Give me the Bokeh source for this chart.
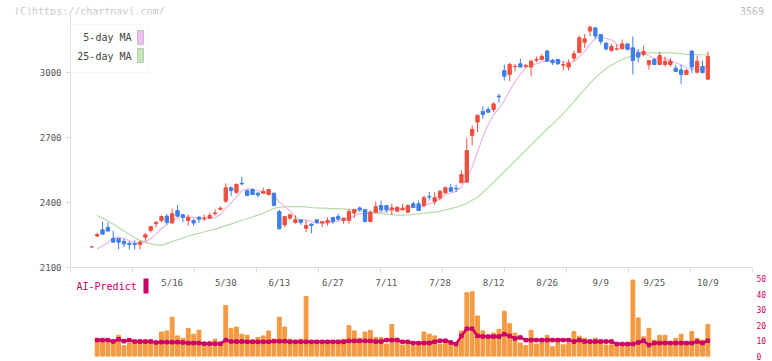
import numpy as np
from bokeh.plotting import figure
from bokeh.layouts import column
from bokeh.models import Range1d, FixedTicker, ColumnDataSource, Label, BoxAnnotation, LinearAxis, Div
from bokeh.core.properties import value
from bokeh.embed import file_html
from bokeh.resources import INLINE

nan = float("nan")

opens = [2195, 2245, 2274, 2285, 2234, 2234, 2221, 2211, 2211, 2206,
         2240, 2271, 2302, 2317, 2337, 2306, 2363, 2343, 2317, 2317,
         2332, 2325, 2328, 2349, 2369, 2406, 2468, 2447, 2489, 2455,
         2460, 2443, 2443, 2437, 2443, 2358, 2297, 2328, 2308, 2320,
         2281, 2300, 2320, 2306, 2308, 2331, 2335, 2317, 2317, 2351,
         2375, 2368, 2312, 2355, 2386, 2386, 2366, 2360, 2366, 2355,
         2394, 2394, 2386, 2428, 2405, 2421, 2445, 2468, 2466, 2491,
         2494, 2709, 2771, 2820, 2829, 2829, 2891, 3009, 2991, 3027,
         3040, 3028, 3025, 3057, 3060, 3099, 3055, 3060, 3034, 3025,
         3066, 3092, 3140, 3191, 3206, 3175, 3135, 3101, 3108, 3109,
         3132, 3114, 3091, 3083, 3037, 3060, 3037, 3037, 3037, 3020,
         3012, 2991, 3099, 3001, 3028, 2969]
highs = [2195, 2260, 2312, 2308, 2269, 2234, 2235, 2221, 2226, 2225,
         2258, 2289, 2314, 2340, 2348, 2371, 2388, 2348, 2345, 2325,
         2337, 2345, 2354, 2368, 2381, 2489, 2474, 2489, 2520, 2460,
         2466, 2448, 2468, 2460, 2443, 2366, 2337, 2348, 2340, 2320,
         2317, 2304, 2320, 2312, 2332, 2332, 2348, 2328, 2371, 2371,
         2381, 2368, 2363, 2405, 2409, 2386, 2394, 2381, 2394, 2391,
         2405, 2409, 2432, 2448, 2448, 2459, 2474, 2486, 2482, 2548,
         2697, 2755, 2806, 2844, 2840, 2863, 2902, 3037, 3045, 3040,
         3063, 3040, 3059, 3074, 3086, 3105, 3063, 3060, 3051, 3060,
         3101, 3171, 3178, 3218, 3206, 3178, 3140, 3132, 3129, 3152,
         3132, 3166, 3109, 3124, 3055, 3066, 3094, 3074, 3066, 3035,
         3035, 3017, 3101, 3078, 3055, 3097]
lows = [2195, 2240, 2254, 2268, 2217, 2184, 2194, 2184, 2184, 2184,
        2221, 2262, 2286, 2309, 2297, 2302, 2332, 2309, 2294, 2292,
        2306, 2314, 2325, 2340, 2363, 2399, 2429, 2440, 2478, 2432,
        2437, 2422, 2443, 2432, 2386, 2275, 2286, 2320, 2302, 2297,
        2263, 2258, 2302, 2286, 2294, 2302, 2317, 2302, 2302, 2328,
        2358, 2312, 2309, 2351, 2355, 2355, 2343, 2358, 2363, 2355,
        2375, 2363, 2378, 2409, 2389, 2409, 2440, 2448, 2448, 2491,
        2491, 2663, 2724, 2786, 2814, 2817, 2860, 2963, 2960, 3006,
        3025, 3022, 2981, 3047, 3060, 3052, 3035, 3035, 3009, 3009,
        3052, 3092, 3114, 3168, 3155, 3129, 3101, 3097, 3101, 3109,
        3101, 2991, 3047, 3074, 3014, 3037, 3037, 3028, 3025, 3005,
        2948, 2991, 2997, 2994, 2999, 2969]
closes = [2195, 2252, 2254, 2268, 2217, 2217, 2209, 2206, 2206, 2217,
          2251, 2289, 2309, 2335, 2309, 2348, 2337, 2332, 2332, 2305,
          2323, 2329, 2340, 2352, 2374, 2468, 2455, 2483, 2486, 2432,
          2437, 2435, 2451, 2460, 2386, 2279, 2335, 2343, 2320, 2308,
          2294, 2294, 2308, 2312, 2317, 2312, 2323, 2328, 2358, 2368,
          2366, 2312, 2355, 2381, 2366, 2366, 2375, 2378, 2374, 2386,
          2378, 2363, 2422, 2425, 2422, 2451, 2468, 2452, 2463, 2529,
          2640, 2737, 2802, 2806, 2817, 2855, 2888, 2983, 3037, 3029,
          3025, 3032, 3052, 3060, 3074, 3052, 3045, 3040, 3037, 3043,
          3086, 3160, 3155, 3209, 3168, 3144, 3109, 3120, 3109, 3132,
          3107, 3055, 3071, 3097, 3055, 3037, 3078, 3052, 3052, 3005,
          2991, 3009, 3025, 3052, 2999, 3074]

ma5 = [nan, 2186, 2199, 2215, 2237, 2242, 2233, 2223, 2211, 2211, 2218,
       2234, 2254, 2280, 2299, 2318, 2328, 2332, 2332, 2331, 2326,
       2324, 2326, 2330, 2344, 2373, 2398, 2426, 2453, 2465, 2459,
       2455, 2448, 2443, 2434, 2402, 2382, 2361, 2333, 2317, 2320,
       2312, 2305, 2303, 2305, 2309, 2314, 2318, 2328, 2338, 2349,
       2346, 2352, 2356, 2356, 2356, 2369, 2373, 2372, 2376, 2378,
       2376, 2385, 2395, 2402, 2417, 2438, 2444, 2451, 2473, 2510,
       2564, 2634, 2703, 2760, 2803, 2834, 2870, 2916, 2958, 2992,
       3021, 3035, 3040, 3049, 3054, 3057, 3054, 3050, 3043, 3050,
       3073, 3096, 3131, 3156, 3167, 3157, 3150, 3130, 3123, 3115,
       3105, 3095, 3092, 3077, 3063, 3068, 3064, 3055, 3045, 3036,
       3022, 3016, 3016, 3015, 3032]
ma25 = [nan, 2340, 2328, 2315, 2300, 2285, 2268, 2252, 2238, 2225, 2216,
        2209, 2204, 2202, 2210, 2220, 2228, 2236, 2244, 2252, 2258,
        2265, 2271, 2277, 2285, 2293, 2300, 2310, 2318, 2325, 2333,
        2342, 2350, 2362, 2373, 2378, 2380, 2381, 2381, 2381, 2380,
        2377, 2375, 2374, 2373, 2372, 2371, 2371, 2368, 2365, 2362,
        2358, 2354, 2350, 2348, 2346, 2344, 2342, 2342, 2343, 2345,
        2348, 2350, 2353, 2356, 2360, 2366, 2372, 2378, 2386, 2396,
        2410, 2424, 2447, 2470, 2494, 2519, 2543, 2567, 2592, 2616,
        2641, 2665, 2690, 2714, 2739, 2762, 2785, 2810, 2838, 2866,
        2895, 2922, 2950, 2975, 2998, 3018, 3035, 3047, 3060, 3070,
        3076, 3083, 3089, 3091, 3091, 3091, 3091, 3091, 3089, 3087,
        3084, 3083, 3082, 3082, 3082]

ai_bar = [nan, 11.7, 10.7, 10.7, 10.7, 13.6, 6.9, 8.6, 10.1, 10.7, 10.1,
          10.7, 8.6, 15.7, 16.4, 25.2, 13.2, 11.7, 18.0, 14.3, 16.8,
          7.3, 9.4, 11.1, 8.0, 32.7, 18.0, 18.9, 14.3, 13.6, 10.7,
          12.2, 13.2, 16.4, 11.1, 25.2, 18.9, 11.1, 10.1, 11.1, 38.4,
          9.4, 10.1, 9.4, 9.4, 8.6, 10.1, 11.1, 19.9, 16.4, 11.7,
          15.7, 16.8, 12.2, 12.2, 8.0, 20.5, 11.7, 7.3, 8.6, 6.9,
          7.3, 15.7, 14.3, 13.2, 8.0, 11.0, 8.0, 8.4, 16.4, 40.9,
          41.5, 26.0, 16.4, 12.0, 15.0, 17.4, 29.0, 21.0, 15.0, 8.6,
          7.0, 16.8, 8.0, 10.5, 13.6, 6.3, 10.5, 7.5, 8.6, 16.0,
          13.0, 11.7, 9.4, 11.7, 10.5, 7.3, 7.5, 7.5, 8.0, 8.0,
          49.0, 24.7, 12.6, 18.0, 10.5, 13.6, 13.6, 7.3, 11.7, 14.3,
          8.0, 16.0, 11.7, 10.5, 20.5]
ai_line = [nan, 10.5, 10.5, 10.5, 9.6, 11.0, 9.8, 10.5, 9.6, 9.6, 9.6,
           9.6, 9.0, 9.2, 9.2, 9.2, 9.2, 9.0, 8.6, 8.6, 8.6,
           8.2, 8.2, 8.2, 8.2, 10.5, 9.6, 9.6, 9.6, 9.4, 9.4,
           9.4, 9.4, 9.4, 9.8, 9.8, 9.8, 9.4, 9.4, 9.4, 9.4,
           9.4, 9.4, 9.4, 9.4, 9.4, 9.4, 9.4, 10.0, 10.0, 10.0,
           10.0, 10.0, 9.6, 9.6, 10.5, 10.5, 10.5, 9.4, 9.4, 8.6,
           8.6, 8.6, 8.6, 9.4, 10.1, 10.1, 9.0, 8.0, 13.2, 17.8,
           17.8, 13.2, 12.8, 12.8, 12.8, 12.8, 14.3, 13.2, 11.5, 12.2,
           10.5, 10.5, 10.5, 10.5, 10.5, 10.5, 10.5, 10.5, 10.5, 9.6,
           10.5, 9.6, 9.6, 9.6, 9.6, 9.6, 9.6, 8.0, 8.0, 8.0,
           8.0, 9.0, 10.1, 7.3, 8.6, 8.6, 8.6, 8.6, 8.6, 8.6,
           8.6, 8.6, 9.6, 8.6, 10.1]

date_idx = [15, 25, 35, 45, 55, 65, 75, 85, 95, 105, 115]
date_lbl = ["5/16", "5/30", "6/13", "6/27", "7/11", "7/28", "8/12", "8/26", "9/9", "9/25", "10/9"]
price_ticks = [2100, 2400, 2700, 3000]
ai_ticks = [0, 10, 20, 30, 40, 50]

FONT = "DejaVu Sans Mono"
UP, DOWN = "#f14f3e", "#3d7ee9"
W = 768

idx = np.arange(len(closes))
o = np.array(opens, float); c = np.array(closes, float)
src = ColumnDataSource(dict(
    x=idx, o=o, h=np.array(highs, float), l=np.array(lows, float), c=c,
    top=np.maximum(o, c), bot=np.minimum(o, c),
    col=[UP if cc >= oo else DOWN for oo, cc in zip(o, c)],
    ma5=np.array(ma5, float), ma25=np.array(ma25, float),
    bar=np.array(ai_bar, float), line=np.array(ai_line, float)))

x_start, x_end = -3.98, 123.33
xr = Range1d(x_start, x_end)

# ---- header texts ----
header = Div(
    text=("<div style=\"position:relative;width:%dpx;height:14px;"
          "font-family:'DejaVu Sans Mono',monospace;font-size:10px;line-height:12px;\">"
          "<span style=\"position:absolute;left:14px;top:6px;color:#c8c8c8;\">(C)https://chartnavi.com/</span>"
          "<span style=\"position:absolute;right:4px;top:6px;color:#bbbbbb;\">3569</span>"
          "</div>") % W,
    width=W, height=14, margin=(0, 0, 0, 0))

# ---- main chart ----
p = figure(frame_width=682, frame_height=253, x_range=xr, y_range=Range1d(2100, 3267.7),
           output_backend="svg", toolbar_location=None,
           min_border_left=70, min_border_right=16, min_border_top=0, min_border_bottom=6)
p.outline_line_color = None
p.grid.visible = False

xa = p.xaxis[0]
xa.ticker = FixedTicker(ticks=[], minor_ticks=list(np.linspace(x_start, x_end, 12)))
xa.major_tick_out = 0
xa.major_tick_in = 0
xa.minor_tick_out = 5
xa.minor_tick_in = 0
xa.major_label_standoff = 0
xa.axis_line_color = "#dddddd"
xa.minor_tick_line_color = "#dddddd"

ya = p.yaxis[0]
ya.ticker = FixedTicker(ticks=price_ticks)
ya.major_label_text_font = FONT
ya.major_label_text_font_size = "9px"
ya.major_label_text_color = "#555555"
ya.major_label_standoff = 4
ya.major_tick_out = 5
ya.major_tick_in = 0
ya.minor_tick_out = 0
ya.minor_tick_in = 0
ya.axis_line_color = "#dddddd"
ya.major_tick_line_color = "#dddddd"

p.line("x", "ma25", source=src, color="#b5dca5", line_width=1.2)
p.line("x", "ma5", source=src, color="#eab6ea", line_width=1.2)
p.segment(x0="x", y0="l", x1="x", y1="h", source=src, color="col", line_width=1)
p.vbar(x="x", width=0.62, top="top", bottom="bot", source=src,
       fill_color="col", line_color="col", line_width=1)

# legend box
p.add_layout(BoxAnnotation(left=0, right=78, bottom=195, top=243,
                           left_units="screen", right_units="screen",
                           bottom_units="screen", top_units="screen",
                           fill_color="white", fill_alpha=1,
                           line_color="#dddddd", line_width=1))
p.add_layout(Label(x=61, y=230, x_units="screen", y_units="screen", text="5-day MA",
                   text_align="right", text_baseline="middle", text_font=FONT,
                   text_font_size="10px", text_color="#444444"))
p.add_layout(Label(x=61, y=211, x_units="screen", y_units="screen", text="25-day MA",
                   text_align="right", text_baseline="middle", text_font=FONT,
                   text_font_size="10px", text_color="#444444"))
p.add_layout(BoxAnnotation(left=67, right=73, bottom=223, top=237,
                           left_units="screen", right_units="screen",
                           bottom_units="screen", top_units="screen",
                           fill_color="#efc0ef", fill_alpha=1, line_color="#666666", line_width=1))
p.add_layout(BoxAnnotation(left=67, right=73, bottom=205, top=219,
                           left_units="screen", right_units="screen",
                           bottom_units="screen", top_units="screen",
                           fill_color="#c4e4b4", fill_alpha=1, line_color="#666666", line_width=1))

# ---- AI predict panel ----
p2 = figure(frame_width=682, frame_height=83, x_range=xr, y_range=Range1d(0, 53.2),
            output_backend="svg", toolbar_location=None,
            x_axis_location=None, y_axis_location=None,
            min_border_left=70, min_border_right=16, min_border_top=0, min_border_bottom=5)
p2.outline_line_color = None
p2.grid.visible = False

ra = LinearAxis(ticker=FixedTicker(ticks=ai_ticks))
ra.axis_line_color = None
ra.major_tick_out = 0
ra.major_tick_in = 0
ra.minor_tick_out = 0
ra.minor_tick_in = 0
ra.major_label_standoff = 4
ra.major_label_text_font = FONT
ra.major_label_text_font_size = "8px"
ra.major_label_text_color = "#cc0066"
p2.add_layout(ra, "right")

p2.vbar(x="x", top="bar", bottom=0, width=0.72, source=src, color="#f39a42")
p2.line("x", "line", source=src, color="#cc0066", line_width=2.5)
p2.scatter("x", "line", source=src, marker="square", size=3.5, color="#cc0066")

p2.text(x=date_idx, y=47.1, text=date_lbl, text_font=value(FONT), text_font_size="9px",
        text_color="#555555", text_align="center", text_baseline="middle")

p2.add_layout(Label(x=6, y=70, x_units="screen", y_units="screen", text="AI-Predict",
                    text_baseline="middle", text_font=FONT, text_font_size="10px",
                    text_color="#cc0066"))
p2.add_layout(BoxAnnotation(left=73, right=78, bottom=63, top=78,
                            left_units="screen", right_units="screen",
                            bottom_units="screen", top_units="screen",
                            fill_color="#cc0066", fill_alpha=1, line_color=None))

layout = column(header, p, p2, spacing=0)
open("out.html", "w").write(file_html(layout, INLINE))
